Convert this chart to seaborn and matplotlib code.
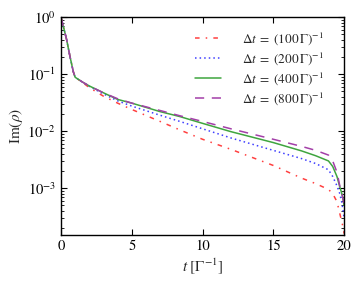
import numpy as np
import pandas as pd
import matplotlib
matplotlib.use("Agg")
import matplotlib.pyplot as plt
import seaborn as sns

# tempo em unidades de 1/Gamma
t = [0, 0.4, 0.64, 0.87, 1.0, 1.5, 2, 3, 4, 5, 7, 8.4, 10, 12, 15, 17, 18,
     18.9, 19.2, 19.5, 19.7, 19.85, 19.95, 20]

# Im(rho) para cada passo de tempo
im_100 = [1.0, 0.40, 0.20, 0.11, 0.088, 0.072, 0.058, 0.041, 0.031, 0.024, 0.0148,
          0.0105, 0.0072, 0.0048, 0.0025, 0.0015, 0.0012, 0.00095, 0.0008, 0.00058,
          0.00036, 0.00025, 0.0002, 0.00016]
im_200 = [1.0, 0.40, 0.20, 0.11, 0.088, 0.073, 0.061, 0.045, 0.034, 0.0275, 0.019,
          0.0148, 0.011, 0.0076, 0.0046, 0.0033, 0.0027, 0.0021, 0.0016, 0.0011,
          0.0008, 0.00055, 0.00038, 0.0003]
im_400 = [1.0, 0.40, 0.20, 0.11, 0.088, 0.073, 0.062, 0.047, 0.036, 0.031, 0.022,
          0.018, 0.0137, 0.0098, 0.0063, 0.0045, 0.0037, 0.0030, 0.0024, 0.0016,
          0.00105, 0.0008, 0.0006, 0.0005]
im_800 = [1.0, 0.40, 0.20, 0.11, 0.088, 0.073, 0.062, 0.047, 0.037, 0.031, 0.023,
          0.0186, 0.0148, 0.011, 0.0072, 0.0054, 0.0046, 0.0038, 0.0030, 0.0019,
          0.0011, 0.0008, 0.0006, 0.0005]

rotulos = [r'$\Delta t\;=\;(100\,\Gamma)^{-1}$', r'$\Delta t\;=\;(200\,\Gamma)^{-1}$',
           r'$\Delta t\;=\;(400\,\Gamma)^{-1}$', r'$\Delta t\;=\;(800\,\Gamma)^{-1}$']

sns.set_style("ticks")
plt.rcParams['font.family'] = ['STIXGeneral', 'DejaVu Serif']
plt.rcParams['mathtext.fontset'] = 'stix'
plt.rcParams['xtick.direction'] = 'in'
plt.rcParams['ytick.direction'] = 'in'

fig = plt.figure(figsize=(3.61, 2.85), dpi=100)
ax = fig.add_axes([0.169, 0.175, 0.784, 0.765])

estilos = [
    (im_100, '#ff4040', (0, (3, 4, 1, 4))),
    (im_200, '#3f3fff', (0, (1, 2))),
    (im_400, '#3fa53f', '-'),
    (im_800, '#a33fa8', (0, (6, 5))),
]
for (vals, cor, ls), rot in zip(estilos, rotulos):
    sns.lineplot(x=t, y=vals, color=cor, linestyle=ls, linewidth=1.1, label=rot, ax=ax)

ax.set_yscale('log')
ax.set_xlim(0, 20)
ax.set_ylim(1.5e-4, 1)
ax.set_xticks([0, 5, 10, 15, 20])
ax.tick_params(which='both', top=True, right=True, labelsize=10.5, colors='black')
ax.tick_params(which='major', length=4)
ax.tick_params(which='minor', length=2)
for s in ax.spines.values():
    s.set_linewidth(1.0)
    s.set_color('black')

ax.set_xlabel(r'$t\ [\Gamma^{-1}]$', fontsize=11, labelpad=2)
ax.set_ylabel(r'$\mathrm{Im}(\rho)$', fontsize=11, labelpad=2)

ax.legend(loc='upper right', frameon=False, fontsize=9.5, handlelength=2.0,
          handletextpad=1.6, labelspacing=0.25, borderpad=0,
          bbox_to_anchor=(0.952, 0.97))

plt.savefig('out.png', dpi=100)
